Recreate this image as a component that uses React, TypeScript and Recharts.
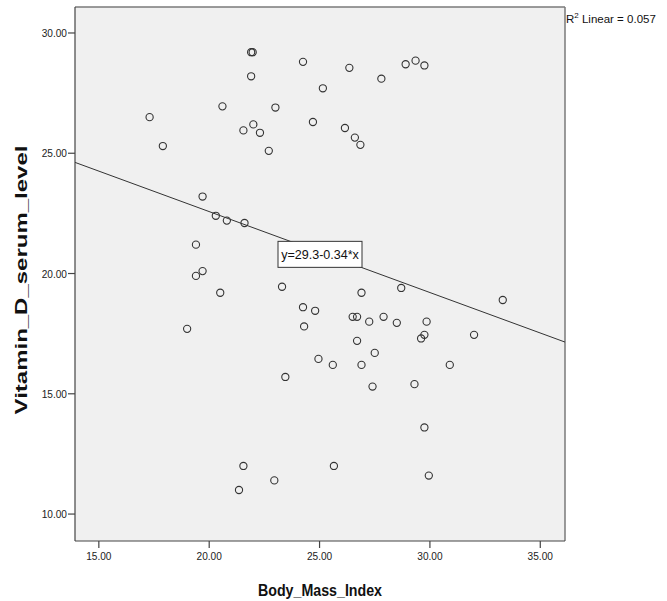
import React from 'react';
import { ScatterChart, Scatter, XAxis, YAxis, ReferenceLine, ReferenceDot, CartesianGrid } from 'recharts';

// Body_Mass_Index values (x)
const bmi = [
  17.3, 17.9, 19.7, 20.3, 20.8, 21.6, 19.4, 19.7, 19.4, 20.5, 19.0,
  21.9, 21.97, 21.9, 20.6, 23.0, 22.0, 21.55, 22.3, 22.7,
  24.25, 25.15, 24.7, 26.35, 27.8, 28.9, 29.35, 29.75, 26.15, 26.6, 26.85,
  23.3, 24.25, 24.8, 24.3, 24.95, 23.45, 26.9, 28.7, 33.3,
  26.5, 26.7, 27.25, 27.9, 28.5, 29.85, 29.6, 29.75, 32.0, 26.7, 27.5,
  25.6, 26.9, 30.9, 27.4, 29.3, 29.75, 25.65, 29.95, 21.55, 22.95, 21.35,
];
// Vitamin_D_serum_level values (y)
const vitD = [
  26.5, 25.3, 23.2, 22.4, 22.2, 22.1, 21.2, 20.1, 19.9, 19.2, 17.7,
  29.2, 29.2, 28.2, 26.95, 26.9, 26.2, 25.95, 25.85, 25.1,
  28.8, 27.7, 26.3, 28.55, 28.1, 28.7, 28.85, 28.65, 26.05, 25.65, 25.35,
  19.45, 18.6, 18.45, 17.8, 16.45, 15.7, 19.2, 19.4, 18.9,
  18.2, 18.2, 18.0, 18.2, 17.95, 18.0, 17.3, 17.45, 17.45, 17.2, 16.7,
  16.2, 16.2, 16.2, 15.3, 15.4, 13.6, 12.0, 11.6, 12.0, 11.4, 11.0,
];

const xTicks = [15, 20, 25, 30, 35];
const yTicks = [10, 15, 20, 25, 30];
const xDomain = [13.92, 36.12];
const yDomain = [8.88, 31.08];

// fit line end points and its label anchor
const fitStart = { x: 13.92, y: 24.62 };
const fitEnd = { x: 36.12, y: 17.15 };
const eqAnchor = { x: 25.02, y: 20.88 };
const equationText = 'y=29.3-0.34*x';
const r2Value = '0.057';

const xTitle = 'Body_Mass_Index';
const yTitle = 'Vitamin_D_serum_level';

const points = bmi.map((b, i) => ({ x: b, y: vitD[i] }));

const FONT = "'Liberation Sans', Arial, sans-serif";

const XTick = (props: any) => {
  const { x, y, payload } = props;
  return (
    <text
      x={x}
      y={y}
      dy="0.71em"
      textAnchor="middle"
      fontSize={11.5}
      fontFamily={FONT}
      fill="#222"
      transform={`translate(${x} 0) scale(0.88 1) translate(${-x} 0)`}
    >
      {Number(payload.value).toFixed(2)}
    </text>
  );
};

const YTick = (props: any) => {
  const { x, y, payload } = props;
  return (
    <text
      x={x}
      y={y}
      dy="0.355em"
      textAnchor="end"
      fontSize={11.5}
      fontFamily={FONT}
      fill="#222"
      transform={`translate(${x} 0) scale(0.88 1) translate(${-x} 0)`}
    >
      {Number(payload.value).toFixed(2)}
    </text>
  );
};

const HollowDot = (props: any) => {
  const { cx, cy } = props;
  if (cx == null || cy == null) return null;
  return <circle cx={cx} cy={cy} r={3.6} fill="none" stroke="#333" strokeWidth={1.1} />;
};

const EquationBox = (props: any) => {
  const { cx, cy } = props;
  if (cx == null || cy == null) return null;
  const w = 84;
  const h = 26;
  const cyy = cy + 2;
  return (
    <g>
      <rect x={cx - w / 2} y={cyy - h / 2} width={w} height={h} fill="#ffffff" stroke="#333" strokeWidth={1} />
      <text
        x={cx}
        y={cyy}
        dy="0.36em"
        textAnchor="middle"
        fontSize={13.5}
        fontFamily={FONT}
        fill="#111"
        transform={`translate(${cx} 0) scale(0.93 1) translate(${-cx} 0)`}
      >
        {equationText}
      </text>
    </g>
  );
};

export default function App() {
  return (
    <div style={{ position: 'absolute', left: 0, top: 0, width: 667, height: 601, background: '#fff' }}>
      <ScatterChart width={667} height={601} margin={{ top: 7, right: 102, bottom: 0, left: 0 }}>
        <CartesianGrid fill="#f0f0f0" horizontal={false} vertical={false} />
        <XAxis
          type="number"
          dataKey="x"
          domain={xDomain}
          ticks={xTicks}
          allowDataOverflow
          height={60}
          tickSize={7}
          tickMargin={4}
          tick={<XTick />}
          axisLine={{ stroke: '#444', strokeWidth: 1.2 }}
          tickLine={{ stroke: '#444', strokeWidth: 1.2 }}
        />
        <YAxis
          type="number"
          dataKey="y"
          domain={yDomain}
          ticks={yTicks}
          allowDataOverflow
          width={75}
          tickSize={7}
          tickMargin={1}
          tick={<YTick />}
          axisLine={{ stroke: '#444', strokeWidth: 1.2 }}
          tickLine={{ stroke: '#444', strokeWidth: 1.2 }}
        />
        <ReferenceLine y={yDomain[1]} stroke="#7a7a7a" strokeWidth={1.5} />
        <ReferenceLine x={xDomain[1]} stroke="#7a7a7a" strokeWidth={1.5} />
        <ReferenceLine segment={[fitStart, fitEnd]} stroke="#333" strokeWidth={1} ifOverflow="visible" />
        <Scatter data={points} isAnimationActive={false} shape={<HollowDot />} />
        <ReferenceDot x={eqAnchor.x} y={eqAnchor.y} ifOverflow="visible" shape={<EquationBox />} />
        <text x={566} y={23} fontSize={11.5} fontFamily={FONT} fill="#111">
          <tspan>R</tspan>
          <tspan dy={-5} fontSize={8}>2</tspan>
          <tspan dy={5}> Linear = {r2Value}</tspan>
        </text>
        <text
          x={320}
          y={590}
          dy="0.36em"
          textAnchor="middle"
          fontSize={16}
          fontWeight="bold"
          fontFamily={FONT}
          fill="#111"
          transform="translate(320 0) scale(0.89 1) translate(-320 0)"
        >
          {xTitle}
        </text>
        <text
          x={0}
          y={0}
          dy="0.36em"
          textAnchor="middle"
          fontSize={16}
          fontWeight="bold"
          fontFamily={FONT}
          fill="#111"
          transform="translate(21 280) rotate(-90) scale(1.5 1)"
        >
          {yTitle}
        </text>
      </ScatterChart>
    </div>
  );
}
